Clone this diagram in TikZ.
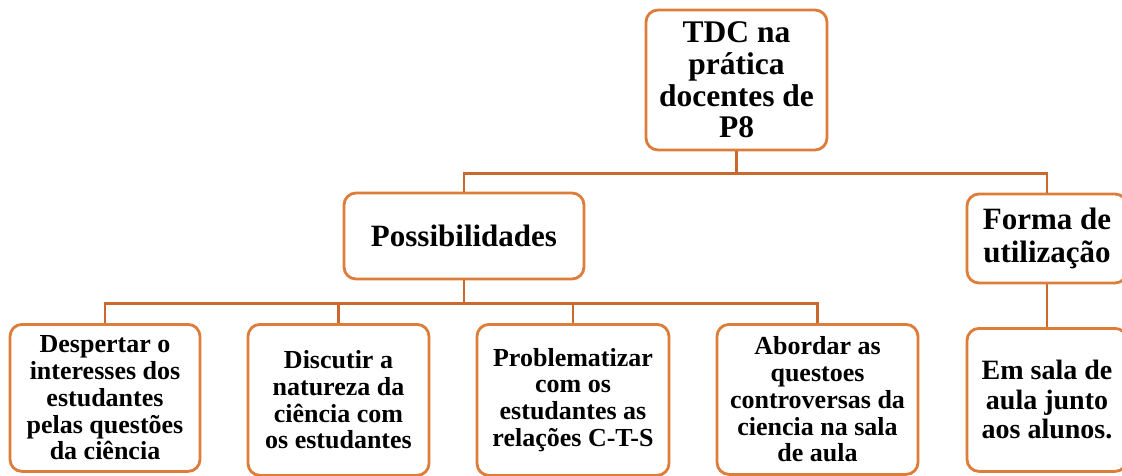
\documentclass[tikz,border=0pt]{standalone}
\usepackage{fontspec}
\setmainfont{Liberation Serif}
\usetikzlibrary{positioning}
\definecolor{boxorange}{RGB}{222,124,58}
\definecolor{linkorange}{RGB}{202,104,46}
\tikzset{
x=1pt, y=-1pt, % pixel-like units, y grows downwards
box/.style={draw=boxorange, line width=2.8pt, rounded corners=12pt, fill=white, align=center, inner sep=0pt}, % every box of the tree
leaf/.style={box, anchor=north, font=\bfseries\fontsize{26}{26.8}\selectfont}, % boxes of the bottom row
link/.style={draw=linkorange, line width=2.6pt}, % the tree lines
}
\begin{document}
\begin{tikzpicture}
\useasboundingbox (0,0) rectangle (1122,475);
% top of the tree
\node[box, minimum width=181, minimum height=140, font=\bfseries\fontsize{31.5}{31.8}\selectfont] (tdc) at (736.5,80) {TDC na\\prática\\docentes de\\P8};
\node[box, minimum width=240, minimum height=86, font=\bfseries\fontsize{31}{33}\selectfont] (poss) at (464,236) {Possibilidades};
\node[box, minimum width=160, minimum height=89, font=\bfseries\fontsize{31}{33}\selectfont] (forma) at (1047,238.5) {Forma de\\utilização};
% bottom row
\node[leaf, minimum width=190, minimum height=147] (p1) at (105,323) {Despertar o\\interesses dos\\estudantes\\pelas questões\\da ciência};
\node[leaf, minimum width=181, minimum height=151] (p2) at (338.5,323) {Discutir a\\natureza da\\ciência com\\os estudantes};
\node[leaf, minimum width=192, minimum height=151] (p3) at (573,323) {Problematizar\\com os\\estudantes as\\relações C-T-S};
\node[leaf, minimum width=201, minimum height=150] (p4) at (817.5,323) {Abordar as\\questoes\\controversas da\\ciencia na sala\\de aula};
\node[leaf, minimum width=160, minimum height=143, font=\bfseries\fontsize{28}{29.5}\selectfont] (f1) at (1047,327) {Em sala de\\aula junto\\aos alunos.};
% lines
\draw[link] (tdc.south) -- ++(0,22) -| (poss.north);
\draw[link] (tdc.south) -- ++(0,22) -| (forma.north);
\foreach \n in {p1,p2,p3,p4}
    \draw[link] (poss.south) -- ++(0,23) -| (\n.north);
\draw[link] (forma.south) -- (f1.north);
\end{tikzpicture}
\end{document}
